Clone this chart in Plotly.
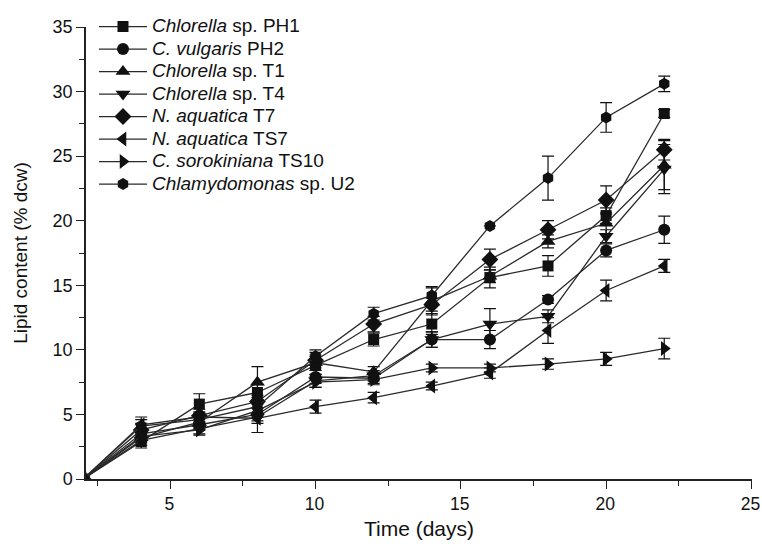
import plotly.graph_objects as go

days = [2, 4, 6, 8, 10, 12, 14, 16, 18, 20, 22]

names = [
    "<i>Chlorella</i> sp. PH1",
    "<i>C. vulgaris</i> PH2",
    "<i>Chlorella</i> sp. T1",
    "<i>Chlorella</i> sp. T4",
    "<i>N. aquatica</i> T7",
    "<i>N. aquatica</i> TS7",
    "<i>C. sorokiniana</i> TS10",
    "<i>Chlamydomonas</i> sp. U2",
]
symbols = ["square", "circle", "triangle-up", "triangle-down", "diamond",
           "triangle-left", "triangle-right", "hexagon"]
sizes = [11, 12, 13, 13, 13, 13, 13, 12]

pH1 = [0, 2.9, 5.8, 6.7, 8.8, 10.8, 12.0, 15.6, 16.5, 20.4, 28.3]
pH1_err = [0, 0.5, 0.8, 0.6, 0.7, 0.5, 0.8, 0.8, 0.8, 0.6, 0.3]
pH2 = [0, 3.5, 4.2, 5.0, 7.9, 7.8, 10.8, 10.8, 13.9, 17.7, 19.3]
pH2_err = [0, 0.4, 0.4, 0.5, 0.5, 0.4, 0.6, 0.7, 0.3, 0.5, 1.05]
t1 = [0, 3.2, 4.4, 7.5, 9.0, 8.3, 13.8, 15.7, 18.4, 19.8, 24.3]
t1_err = [0, 0.4, 0.5, 1.2, 0.6, 0.4, 1.1, 0.5, 0.5, 0.8, 1.9]
t4 = [0, 3.0, 3.9, 4.8, 7.6, 8.0, 10.8, 12.0, 12.6, 18.8, 24.0]
t4_err = [0, 0.4, 0.4, 1.2, 0.5, 0.4, 0.6, 1.2, 0.5, 0.5, 1.9]
t7 = [0, 3.8, 4.9, 6.0, 9.2, 12.0, 13.5, 17.0, 19.3, 21.6, 25.5]
t7_err = [0, 0.5, 0.5, 0.5, 0.6, 0.6, 0.5, 0.8, 0.7, 1.1, 0.8]
ts7 = [0, 4.2, 4.8, 4.7, 5.6, 6.3, 7.2, 8.2, 11.5, 14.6, 16.5]
ts7_err = [0, 0.6, 0.4, 0.4, 0.5, 0.4, 0.3, 0.4, 1.0, 0.8, 0.5]
ts10 = [0, 3.3, 3.8, 5.3, 7.5, 7.7, 8.6, 8.6, 8.9, 9.3, 10.1]
ts10_err = [0, 0.4, 0.4, 0.5, 0.4, 0.4, 0.3, 0.3, 0.4, 0.5, 0.8]
u2 = [0, 4.1, 4.6, 5.6, 9.5, 12.8, 14.2, 19.6, 23.3, 28.0, 30.6]
u2_err = [0, 0.5, 0.5, 0.5, 0.5, 0.5, 0.6, 0.0, 1.7, 1.15, 0.6]

series = [pH1, pH2, t1, t4, t7, ts7, ts10, u2]
errors = [pH1_err, pH2_err, t1_err, t4_err, t7_err, ts7_err, ts10_err, u2_err]

font_main = "Liberation Sans, Arial, sans-serif"

fig = go.Figure()
for name, sym, sz, ys, es in zip(names, symbols, sizes, series, errors):
    fig.add_trace(go.Scatter(
        x=days, y=ys, name='<span style="font-size:19px">' + name + '</span>',
        mode="lines+markers",
        line=dict(color="#2a2a2a", width=1.3),
        marker=dict(symbol=sym, size=sz, color="#111111"),
        error_y=dict(type="data", array=es, visible=True,
                     color="#111111", thickness=1.2, width=6),
    ))

fig.update_layout(
    width=762, height=546,
    margin=dict(l=86, r=10, t=15, b=67),
    plot_bgcolor="white", paper_bgcolor="white",
    showlegend=True,
    legend=dict(
        x=0.012, y=1.037, xanchor="left", yanchor="top",
        font=dict(family=font_main, size=15, color="#111111"),
        bgcolor="rgba(0,0,0,0)", itemwidth=48, tracegroupgap=0,
    ),
    xaxis=dict(
        range=[2.1, 25.02], tickmode="array", tickvals=[5, 10, 15, 20, 25],
        ticks="outside", ticklen=8, tickwidth=1.2, tickcolor="#222",
        minor=dict(tickvals=[2.5, 7.5, 12.5, 17.5, 22.5], ticks="outside", ticklen=5,
                   tickwidth=1.2, tickcolor="#222"),
        showline=True, linecolor="#222", linewidth=1.5, showgrid=False, zeroline=False,
        tickfont=dict(family=font_main, size=17.5, color="#111"),
        ticklabelshift=-1, ticklabeloverflow="allow",
        automargin=False,
        title=dict(text="Time (days)", font=dict(family=font_main, size=21, color="#111"),
                   standoff=9),
    ),
    yaxis=dict(
        range=[0, 35], tickmode="array", tickvals=[0, 5, 10, 15, 20, 25, 30, 35],
        ticks="outside", ticklen=8, tickwidth=1.2, tickcolor="#222",
        minor=dict(tickvals=[2.5, 7.5, 12.5, 17.5, 22.5, 27.5, 32.5], ticks="outside",
                   ticklen=5, tickwidth=1.2, tickcolor="#222"),
        showline=True, linecolor="#222", linewidth=1.5, showgrid=False, zeroline=False,
        tickfont=dict(family=font_main, size=18, color="#111"),
        automargin=False,
        title=dict(text="Lipid content (% dcw)", font=dict(family=font_main, size=19, color="#111"),
                   standoff=20),
    ),
)

# remove the default 8px page margin so the 762x546 figure fills the window exactly
fig.write_html("out.html",
               config={"displayModeBar": False},
               post_script="document.body.style.margin='0px';document.body.style.overflow='hidden';")
